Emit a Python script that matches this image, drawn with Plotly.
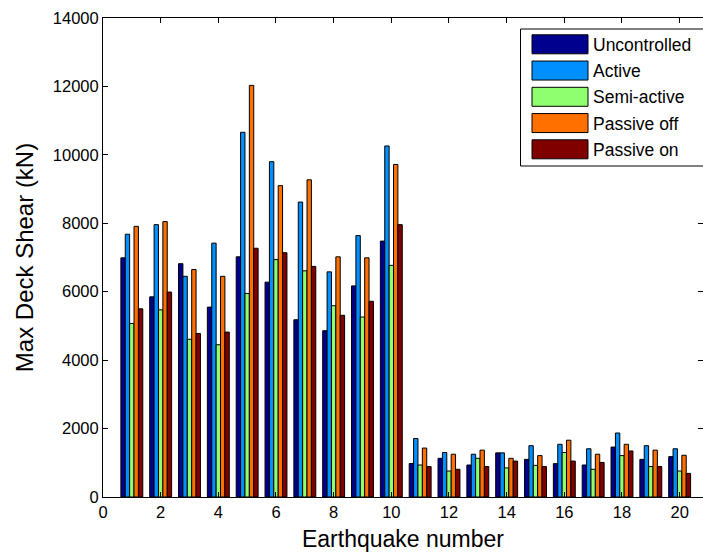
import plotly.graph_objects as go

# Earthquake record numbers
quakes = list(range(1, 21))

# Peak deck shear (kN) for each control strategy
uncontrolled = [6990, 5850, 6820, 5550, 7020, 6280, 5180, 4860, 6170, 7480,
                980, 1130, 935, 1290, 1100, 975, 935, 1460, 1100, 1180]
active = [7680, 7960, 6450, 7420, 10660, 9800, 8620, 6580, 7640, 10260,
          1710, 1300, 1250, 1290, 1500, 1540, 1410, 1870, 1500, 1410]
semi_active = [5070, 5470, 4610, 4450, 5950, 6940, 6610, 5590, 5260, 6770,
               935, 760, 1130, 850, 925, 1300, 810, 1210, 890, 760]
passive_off = [7910, 8050, 6650, 6450, 12030, 9100, 9270, 7020, 6990, 9720,
               1430, 1250, 1370, 1130, 1210, 1660, 1250, 1540, 1370, 1220]
passive_on = [5500, 5990, 4780, 4820, 7270, 7140, 6740, 5310, 5720, 7960,
              890, 810, 890, 1050, 890, 1050, 1010, 1345, 890, 690]

series_names = ["Uncontrolled", "Active", "Semi-active", "Passive off", "Passive on"]
series_values = [uncontrolled, active, semi_active, passive_off, passive_on]
series_colors = ["#00008F", "#008FFF", "#8FFF70", "#FF7000", "#800000"]

x_ticks = list(range(0, 21, 2))
y_ticks = list(range(0, 14001, 2000))
y_tick_text = [str(v) for v in y_ticks]

FONT = "Liberation Sans, Arial, Helvetica, sans-serif"

fig = go.Figure()
for name, vals, col in zip(series_names, series_values, series_colors):
    fig.add_trace(go.Bar(
        x=quakes, y=vals, name=name,
        marker=dict(color=col, line=dict(color="#000000", width=1)),
        showlegend=False,
    ))

# Plot-area geometry in pixels, used to place the boxed legend
W, H = 703, 554
L, R, T, B = 103, 0, 18, 57
pw, ph = W - L - R, H - T - B


def px_x(p):
    return (p - L) / pw


def px_y(p):
    return (H - B - p) / ph


shapes = [dict(type="rect", xref="paper", yref="paper",
               x0=px_x(520.5), x1=px_x(712), y0=px_y(166), y1=px_y(29),
               line=dict(color="#000000", width=1), fillcolor="#FFFFFF", layer="above")]
annotations = []
row0, step = 44.3, 26.25
for i, (name, col) in enumerate(zip(series_names, series_colors)):
    cy = row0 + i * step
    shapes.append(dict(type="rect", xref="paper", yref="paper",
                       x0=px_x(532), x1=px_x(588), y0=px_y(cy + 9.5), y1=px_y(cy - 9.5),
                       line=dict(color="#000000", width=1), fillcolor=col, layer="above"))
    annotations.append(dict(xref="paper", yref="paper", x=px_x(591), y=px_y(cy + 0.5),
                            text=name, showarrow=False, xanchor="left", yanchor="middle",
                            font=dict(family=FONT, size=17.5, color="#000000")))

fig.update_layout(
    width=W, height=H,
    margin=dict(l=L, r=R, t=T, b=B, pad=0),
    paper_bgcolor="#FFFFFF", plot_bgcolor="#FFFFFF",
    barmode="group", bargap=0.24, bargroupgap=0,
    font=dict(family=FONT, size=16.5, color="#000000"),
    shapes=shapes, annotations=annotations,
    xaxis=dict(range=[0, 20.81], tickvals=x_ticks, ticks="inside", ticklen=5,
               tickcolor="#000000", showline=True, linecolor="#000000", linewidth=1,
               mirror="ticks", showgrid=False, zeroline=False,
               title=dict(text="Earthquake number", font=dict(size=23), standoff=11),
               tickfont=dict(size=16.5)),
    yaxis=dict(range=[0, 14000], tickvals=y_ticks, ticktext=y_tick_text,
               ticks="inside", ticklen=5,
               tickcolor="#000000", showline=True, linecolor="#000000", linewidth=1,
               mirror="ticks", showgrid=False, zeroline=False,
               title=dict(text="Max Deck Shear (kN)", font=dict(size=24), standoff=12),
               tickfont=dict(size=16.5)),
)

fig.write_html("out.html")
